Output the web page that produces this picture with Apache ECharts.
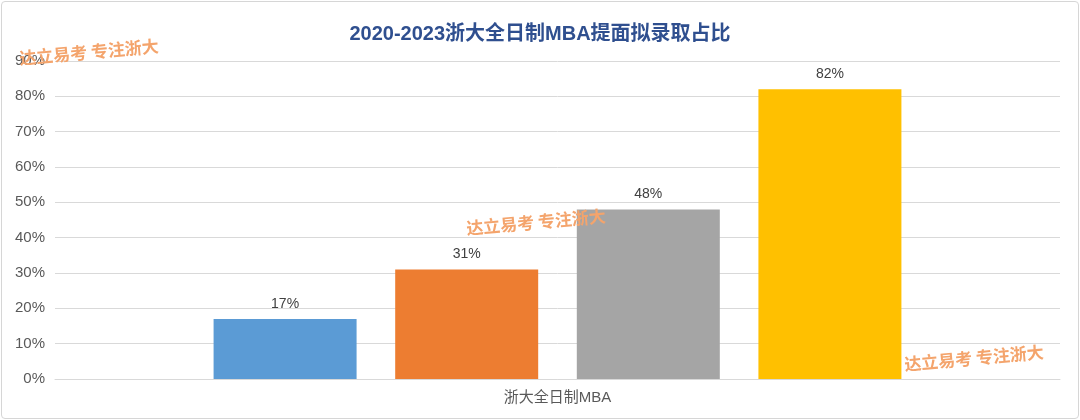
<!DOCTYPE html>
<html><head><meta charset="utf-8">
<script src="https://cdn.jsdelivr.net/npm/echarts@6/dist/echarts.min.js"></script>
<style>
html,body{margin:0;padding:0;background:#fff;}
#c{position:absolute;left:1px;top:1px;width:1076px;height:416px;border:1px solid #d6d6d6;border-radius:4px;box-sizing:content-box;}
</style></head>
<body><div id="c"></div>
<script>
const categories = ['浙大全日制MBA'];
const seriesNames = ['2020', '2021', '2022', '2023'];
const seriesValues = [[17], [31], [48], [82]];
const colors = ['#5b9bd5', '#ed7d31', '#a5a5a5', '#ffc000'];
const yTicks = [0, 10, 20, 30, 40, 50, 60, 70, 80, 90];
const watermark = '达立易考 专注浙大';

const chart = echarts.init(document.getElementById('c'));
const font = '"Liberation Sans","Noto Sans CJK SC",sans-serif';
chart.setOption({
  animation: false,
  title: {
    text: '2020-2023浙大全日制MBA提面拟录取占比',
    left: 'center', top: 17,
    textStyle: {fontSize: 20, fontWeight: 'bold', color: '#2f4f8f', fontFamily: font}
  },
  grid: {left: 53, right: 18, top: 59, bottom: 39, containLabel: false},
  xAxis: {
    type: 'category', data: categories,
    axisLine: {lineStyle: {color: '#d9d9d9'}},
    axisTick: {show: false},
    axisLabel: {color: '#595959', fontSize: 15, fontFamily: font, margin: 11}
  },
  yAxis: {
    type: 'value', min: yTicks[0], max: yTicks[yTicks.length - 1], interval: 10,
    axisLine: {show: false}, axisTick: {show: false},
    splitLine: {lineStyle: {color: '#d9d9d9'}},
    axisLabel: {color: '#595959', fontSize: 15, fontFamily: font, formatter: '{value}%', margin: 10}
  },
  series: seriesNames.map((n, i) => ({
    name: n, type: 'bar', data: seriesValues[i],
    barWidth: 143, barGap: '27%',
    itemStyle: {color: colors[i]},
    label: {show: true, position: 'top', distance: 8, formatter: '{c}%', color: '#404040', fontSize: 14, fontFamily: font}
  })),
  graphic: [
    {pos: [88, 51]}, {pos: [535, 221]}, {pos: [973, 357]}
  ].map(w => ({
    type: 'text', x: w.pos[0] - 1, y: w.pos[1] - 1, rotation: 0.09, z: 100,
    style: {text: watermark, fill: '#f4a46c', font: 'bold 17px "Noto Sans CJK SC",sans-serif', align: 'center', verticalAlign: 'middle'}
  }))
});
</script></body></html>
